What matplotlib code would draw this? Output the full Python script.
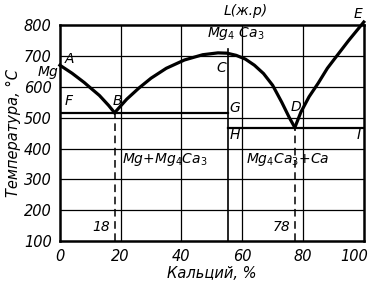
import matplotlib
matplotlib.use("Agg")
import matplotlib.pyplot as plt
from matplotlib.transforms import ScaledTranslation

# liquidus branches (Ca %, temperature °C)
ab_x = [0, 4, 8, 10, 13, 16, 18]
ab_t = [670, 644, 614, 597, 572, 540, 516]
bcd_x = [18, 22, 26, 30, 35, 41, 47, 52, 55, 58, 61, 64, 67, 70, 73, 75.5, 77.3]
bcd_t = [516, 560, 596, 628, 660, 687, 704, 710, 709, 702, 690, 670, 643, 605, 550, 500, 468]
de_x = [77.3, 79.3, 82, 85, 88, 91.8, 95, 100]
de_t = [468, 518, 568, 612, 660, 709, 750, 810]

eut_b_t = 516
eut_d_t = 468
compound_x = 55.3
eut_b_x = 18
eut_d_x = 77.3

xticks = [0, 20, 40, 60, 80, 100]
yticks = [100, 200, 300, 400, 500, 600, 700, 800]

plt.rcParams["font.family"] = ["DejaVu Sans"]
fig = plt.figure(figsize=(3.72, 2.82), dpi=100)
ax = fig.add_axes([0.161, 0.145, 0.817, 0.766])
ax.set_xlim(0, 100)
ax.set_ylim(100, 800)

for x in xticks[1:-1]:
    ax.axvline(x, color="black", lw=0.9)
for y in yticks[1:-1]:
    ax.axhline(y, color="black", lw=0.9)

lw = 2.3
ax.plot(ab_x, ab_t, color="black", lw=lw, clip_on=False)
ax.plot(bcd_x, bcd_t, color="black", lw=lw, clip_on=False)
ax.plot(de_x, de_t, color="black", lw=lw, clip_on=False)

ax.plot([0, compound_x], [eut_b_t, eut_b_t], color="black", lw=1.6)
ax.plot([compound_x, 100], [eut_d_t, eut_d_t], color="black", lw=1.6)
ax.plot([compound_x, compound_x], [100, 722], color="black", lw=1.2)
ax.plot([eut_b_x, eut_b_x], [100, eut_b_t], color="black", lw=1.1, ls=(0, (5, 3)))
ax.plot([eut_d_x, eut_d_x], [100, eut_d_t], color="black", lw=1.1, ls=(0, (5, 3)))

for s in ax.spines.values():
    s.set_linewidth(1.8)
ax.set_xticks(xticks)
ax.set_yticks(yticks)
ax.tick_params(length=0, labelsize=10.5)
ax.tick_params(axis="x", pad=6)
ax.tick_params(axis="y", pad=6)
for t in ax.get_xticklabels() + ax.get_yticklabels():
    t.set_fontstyle("italic")
# keep the last x label inside the picture
last = ax.get_xticklabels()[-1]
last.set_ha("right")
last.set_transform(last.get_transform() + ScaledTranslation(4 / 100, 0, fig.dpi_scale_trans))

fs = 10
lab = dict(fontsize=fs, style="italic", color="black")
ax.text(1.5, 690, "A", **lab, va="center")
ax.text(-0.5, 648, "Mg", **lab, ha="right", va="center")
ax.text(1.5, 555, "F", **lab, va="center")
ax.text(17.5, 555, "B", **lab, va="center")
ax.text(51.5, 660, "C", **lab, va="center")
ax.text(55.8, 530, "G", **lab, va="center")
ax.text(55.8, 445, "H", **lab, va="center")
ax.text(76, 535, "D", **lab, va="center")
ax.text(97.5, 445, "I", **lab, va="center")
ax.text(96.5, 835, "E", **lab, va="center")
ax.text(61, 847, "L(ж.р)", **lab, ha="center", va="center")
ax.text(58, 772, "Mg$_4$ Ca$_3$", **lab, ha="center", va="center")
ax.text(34.5, 365, "Mg+Mg$_4$Ca$_3$", **lab, ha="center", va="center")
ax.text(75, 365, "Mg$_4$Ca$_3$+Ca", **lab, ha="center", va="center")
ax.text(16.5, 145, "18", **lab, ha="right", va="center")
ax.text(75.8, 145, "78", **lab, ha="right", va="center")

ax.set_xlabel("Кальций, %", fontsize=10.5, style="italic", labelpad=1)
ax.set_ylabel("Температура, °C", fontsize=10.5, style="italic", labelpad=2)

fig.savefig("out.png", dpi=100)
